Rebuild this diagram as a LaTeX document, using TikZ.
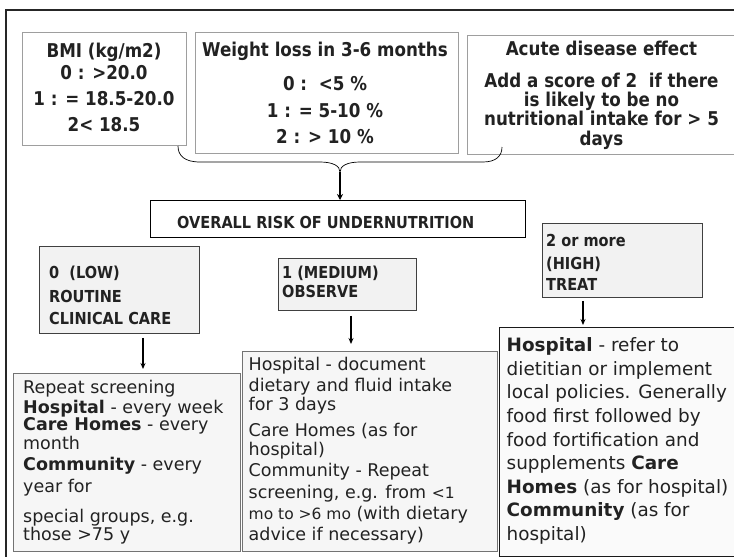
\documentclass[tikz,border=0pt]{standalone}
\usepackage{fontspec}
\setmainfont{DejaVu Sans}
\newfontfamily\headfont[FakeStretch=0.88]{DejaVu Sans}
\usetikzlibrary{arrows.meta}
\definecolor{ink}{HTML}{222222}
\definecolor{lightbox}{HTML}{F2F2F2}
\definecolor{paleBox}{HTML}{F6F6F6}
\begin{document}
\begin{tikzpicture}[x=1pt,y=-1pt,
  box/.style={rectangle, anchor=north west, inner sep=0pt, line width=0.9pt},
  topbox/.style={box, draw=black!38, fill=white},
  levelbox/.style={box, draw=black!75, fill=lightbox},
  actionbox/.style={box, draw=black!55, fill=paleBox},
  txt/.style={inner sep=0pt, anchor=base, text=ink},
  ltxt/.style={txt, anchor=base west},
  topfont/.style={font=\headfont\bfseries\fontsize{19}{22}\selectfont},
  headfont/.style={font=\headfont\bfseries\fontsize{16.5}{19}\selectfont},
  bodyfont/.style={font=\fontsize{17.5}{20}\selectfont},
  hibodyfont/.style={font=\fontsize{18.4}{22}\selectfont},
  arr/.style={line width=1.1pt, -{Stealth[length=6pt,width=5pt]}},
  bigarr/.style={line width=1.8pt, -{Stealth[length=6pt,width=6pt]}}]
\useasboundingbox (0,0) rectangle (734,557);
\clip (0,0) rectangle (734,557);

% outer frame
\draw[line width=1.6pt, black!85] (6,570) -- (6,10) -- (745,10);

% score boxes
\node[topbox, minimum width=164pt, minimum height=113pt] (bmi) at (22,32) {};
\node[topbox, minimum width=263pt, minimum height=121pt] (wl) at (195,32) {};
\node[topbox, minimum width=272pt, minimum height=119pt] (acute) at (467,35) {};

\foreach \y/\t [count=\i] in {57.5/{BMI (kg/m2)}, 79.5/{0 : >20.0},
    105.5/{1 : = 18.5-20.0}, 131.5/{2< 18.5}}
  \node[txt, topfont] (bmi-\i) at (104,\y) {\t};
\foreach \y/\t [count=\i] in {56.5/{Weight loss in 3-6 months}, 90.5/{0 :\ \ <5 \%},
    117.5/{1 : = 5-10 \%}, 143.5/{2 : > 10 \%}}
  \node[txt, topfont] (wl-\i) at (325,\y) {\t};
\foreach \y/\t [count=\i] in {55.5/{Acute disease effect}, 87.5/{Add a score of 2\ \ if there},
    106.5/{is likely to be no}, 125.5/{nutritional intake for > 5}, 145.5/{days}}
  \node[txt, topfont] (ac-\i) at (601.5,\y) {\t};

% brace joining the three scores
\coordinate (brL) at (178,146);
\coordinate (brR) at (502,147);
\coordinate (brTip) at (340,172);
\draw[line width=0.7pt, black]
  (brL) .. controls (178,156) and (185,162) .. (200,162) -- (320,162)
  .. controls (333,162) and (340,166) .. (brTip)
  .. controls (340,166) and (347,162) .. (360,162) -- (483,162)
  .. controls (496,162) and (502,156) .. (brR);

% overall risk
\node[box, draw=black, fill=white, minimum width=375pt, minimum height=37pt] (overall) at (150,200) {};
\node[ltxt, headfont] (overall-t) at (177,228) {OVERALL RISK OF UNDERNUTRITION};
\draw[bigarr] (brTip) -- (overall.north -| brTip);

% risk levels
\node[levelbox, minimum width=160pt, minimum height=87pt] (low) at (39,246) {};
\node[levelbox, minimum width=138pt, minimum height=52pt] (med) at (278,258) {};
\node[levelbox, minimum width=160pt, minimum height=74pt] (high) at (542,223) {};

\foreach \y/\t [count=\i] in {278/{0\ \ (LOW)}, 302/{ROUTINE}, 324/{CLINICAL CARE}}
  \node[ltxt, headfont] (low-\i) at (49,\y) {\t};
\foreach \y/\t [count=\i] in {278/{1 (MEDIUM)}, 297/{OBSERVE}}
  \node[ltxt, headfont] (med-\i) at (282,\y) {\t};
\foreach \y/\t [count=\i] in {246/{2 or more}, 269/{(HIGH)}, 290/{TREAT}}
  \node[ltxt, headfont] (high-\i) at (546,\y) {\t};

% management boxes
\node[actionbox, minimum width=227pt, minimum height=178pt] (lowact) at (13,373) {};
\node[actionbox, minimum width=255pt, minimum height=200pt] (medact) at (242,351) {};
\node[box, draw=black!90, fill=paleBox!60, minimum width=245pt, minimum height=229pt] (highact) at (499,327) {};

\foreach \y/\t [count=\i] in {393/{Repeat screening}, 413/{\textbf{Hospital} - every week},
    430.5/{\textbf{Care Homes} - every}, 449/{month}, 470/{\textbf{Community} - every},
    492/{year for}, 522/{special groups, e.g.}, 540/{those >75 y}}
  \node[ltxt, bodyfont] (lowact-\i) at (23,\y) {\t};
\foreach \y/\t [count=\i] in {370/{Hospital - document}, 391/{dietary and fluid intake},
    410/{for 3 days}, 436/{Care Homes (as for}, 455/{hospital)}, 476/{Community - Repeat},
    498/{screening, e.g. from {\fontsize{15.5}{18}\selectfont <1}},
    519/{{\fontsize{15.5}{18}\selectfont mo to >6 mo} (with dietary},
    540/{advice if necessary)}}
  \node[ltxt, bodyfont] (medact-\i) at (248.5,\y) {\t};
\foreach \t [count=\i] in {{\textbf{Hospital} - refer to}, {dietitian or implement},
    {local policies. Generally}, {food first followed by}, {food fortification and},
    {supplements \textbf{Care}}, {\textbf{Homes} (as for hospital)},
    {\textbf{Community} (as for}, {hospital)}}
  \node[ltxt, hibodyfont] (highact-\i) at (506.5,{351.7+23.6*(\i-1)}) {\t};

% level arrows
\coordinate (xl) at (143,0);
\coordinate (xm) at (351,0);
\coordinate (xh) at (583,0);
\draw[arr, shorten <=4pt, shorten >=4pt] (low.south -| xl) -- (lowact.north -| xl);
\draw[arr, shorten <=5pt, shorten >=7pt] (med.south -| xm) -- (medact.north -| xm);
\draw[arr, shorten <=3pt, shorten >=2pt] (high.south -| xh) -- (highact.north -| xh);
\end{tikzpicture}
\end{document}
